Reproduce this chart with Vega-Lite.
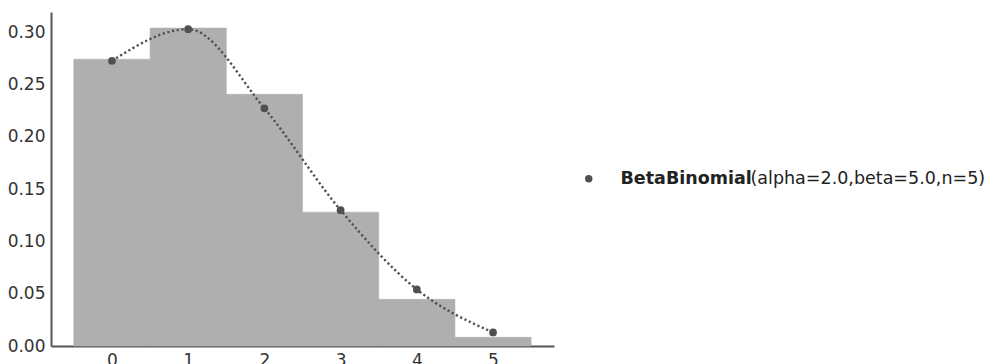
{
  "$schema": "https://vega.github.io/schema/vega-lite/v6.json",
  "width": 503,
  "height": 334,
  "autosize": "none",
  "padding": {"left": 51, "top": 12, "right": 434, "bottom": 18},
  "background": "white",
  "config": {
    "view": {"stroke": null},
    "font": "DejaVu Sans",
    "axis": {
      "grid": false,
      "ticks": false,
      "domainColor": "#555555",
      "domainWidth": 2,
      "labelFont": "DejaVu Sans",
      "labelFontSize": 17,
      "labelColor": "#333333",
      "title": null
    },
    "legend": {
      "padding": 0,
      "labelFont": "DejaVu Sans",
      "labelFontSize": 17.5,
      "labelColor": "#222222",
      "labelLimit": 0
    }
  },
  "data": {
    "values": [
      {"k": 0, "lo": -0.5, "hi": 0.5, "sample": 0.2742, "pmf": 0.2727, "dist": "BetaBinomial", "params": "(alpha=2.0,beta=5.0,n=5)"},
      {"k": 1, "lo": 0.5, "hi": 1.5, "sample": 0.3040, "pmf": 0.3030, "dist": "BetaBinomial", "params": "(alpha=2.0,beta=5.0,n=5)"},
      {"k": 2, "lo": 1.5, "hi": 2.5, "sample": 0.2407, "pmf": 0.2273, "dist": "BetaBinomial", "params": "(alpha=2.0,beta=5.0,n=5)"},
      {"k": 3, "lo": 2.5, "hi": 3.5, "sample": 0.1280, "pmf": 0.1299, "dist": "BetaBinomial", "params": "(alpha=2.0,beta=5.0,n=5)"},
      {"k": 4, "lo": 3.5, "hi": 4.5, "sample": 0.0446, "pmf": 0.0541, "dist": "BetaBinomial", "params": "(alpha=2.0,beta=5.0,n=5)"},
      {"k": 5, "lo": 4.5, "hi": 5.5, "sample": 0.0083, "pmf": 0.0130, "dist": "BetaBinomial", "params": "(alpha=2.0,beta=5.0,n=5)"}
    ]
  },
  "layer": [
    {
      "mark": {"type": "rect", "color": "#afafaf", "stroke": "#afafaf", "strokeWidth": 0.6},
      "encoding": {
        "x": {"field": "lo", "type": "quantitative",
              "scale": {"domain": [-0.8, 5.8], "nice": false, "zero": false},
              "axis": {"values": [0, 1, 2, 3, 4, 5], "format": "d", "labelPadding": 6}},
        "x2": {"field": "hi"},
        "y": {"field": "sample", "type": "quantitative",
              "scale": {"domain": [0, 0.3194], "nice": false},
              "axis": {"values": [0, 0.05, 0.1, 0.15, 0.2, 0.25, 0.3], "format": ".2f", "labelPadding": 6}},
        "y2": {"datum": 0}
      }
    },
    {
      "mark": {"type": "line", "interpolate": "monotone", "color": "#505050", "strokeWidth": 2.4},
      "encoding": {
        "x": {"field": "k", "type": "quantitative"},
        "y": {"field": "pmf", "type": "quantitative"},
        "strokeDash": {"field": "params", "type": "nominal",
                       "scale": {"range": [[2.2, 2.6]]},
                       "legend": {"orient": "none", "legendX": 682, "legendY": 158, "title": null,
                                  "symbolOpacity": 0, "symbolStrokeWidth": 0, "symbolSize": 1,
                                  "labelOffset": 0, "labelFontWeight": "normal"}}
      }
    },
    {
      "mark": {"type": "point", "filled": true, "opacity": 1, "size": 60},
      "encoding": {
        "x": {"field": "k", "type": "quantitative"},
        "y": {"field": "pmf", "type": "quantitative"},
        "color": {"field": "dist", "type": "nominal",
                  "scale": {"range": ["#505050"]},
                  "legend": {"orient": "none", "legendX": 529, "legendY": 158, "title": null,
                             "symbolType": "circle", "symbolSize": 55, "symbolOpacity": 1,
                             "labelOffset": 23, "labelFontWeight": "bold"}}
      }
    }
  ]
}
